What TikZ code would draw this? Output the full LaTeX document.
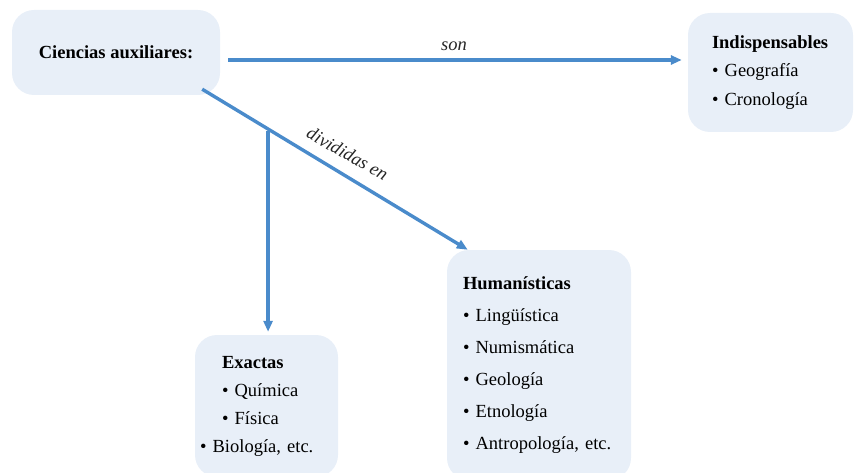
\documentclass[tikz,border=0pt]{standalone}
\usepackage{fontspec}
\setmainfont{Liberation Serif}
\usetikzlibrary{arrows.meta}
\frenchspacing

\definecolor{boxfill}{RGB}{232,239,248}
\definecolor{linkblue}{RGB}{74,139,203}

\begin{document}
\begin{tikzpicture}[x=1pt,y=1pt,yscale=-1,xscale=1,
    box/.style={fill=boxfill, rounded corners=22pt, align=left, inner ysep=0pt},
    link/.style={draw=linkblue, line width=3.4pt, -{Triangle[length=11pt,width=9pt]}},
    tag/.style={font=\itshape\fontsize{18.5}{20}\selectfont, text=black!85}
  ]
  \useasboundingbox (0,0) rectangle (854,473);

  % Boxes
  \node [box, align=center, minimum width=208pt, minimum height=85pt, font=\bfseries\fontsize{18.5}{20}\selectfont] (ciencias) at (116,52.5) {\raisebox{-4pt}{Ciencias auxiliares:}};
  \node [box, minimum width=165pt, minimum height=119pt, text width=117pt, inner xsep=24pt, font=\fontsize{18.5}{28.5}\selectfont] (indisp) at (770.5,72.5)
    {\textbf{Indispensables}\\ \textbullet\ Geografía\\ \textbullet\ Cronología};
  \node [box, minimum width=184pt, minimum height=230pt, text width=152pt, inner xsep=16pt, font=\fontsize{18.5}{32}\selectfont] (human) at (539,365)
    {\textbf{Humanísticas}\\ \textbullet\ Lingüística\\ \textbullet\ Numismática\\ \textbullet\ Geología\\ \textbullet\ Etnología\\ \textbullet\ Antropología, etc.};
  \node [box, minimum width=143pt, minimum height=142pt, text width=133pt, inner xsep=5pt, font=\fontsize{18.5}{28}\selectfont] (exactas) at (266.5,406)
    {\hspace*{22pt}\textbf{Exactas}\\ \hspace*{22pt}\textbullet\ Química\\ \hspace*{22pt}\textbullet\ Física\\ \textbullet\ Biología, etc.};

  % Connectors
  \draw [link, shorten <=8pt, shorten >=6pt] (ciencias.east |- 0,60) -- (indisp.west |- 0,60)
    node [tag, midway, above=4pt] {son};
  \draw [link] ([xshift=-18pt,yshift=-6pt]ciencias.south east) -- coordinate [pos=0.248] (split) ([xshift=21pt]human.north west)
    node [tag, pos=0.51, anchor=south, rotate=-29.3, inner sep=12pt] {divididas en};
  \draw [link, shorten >=3pt] ([yshift=1.5pt]split) -- (split |- exactas.north);

\end{tikzpicture}
\end{document}
